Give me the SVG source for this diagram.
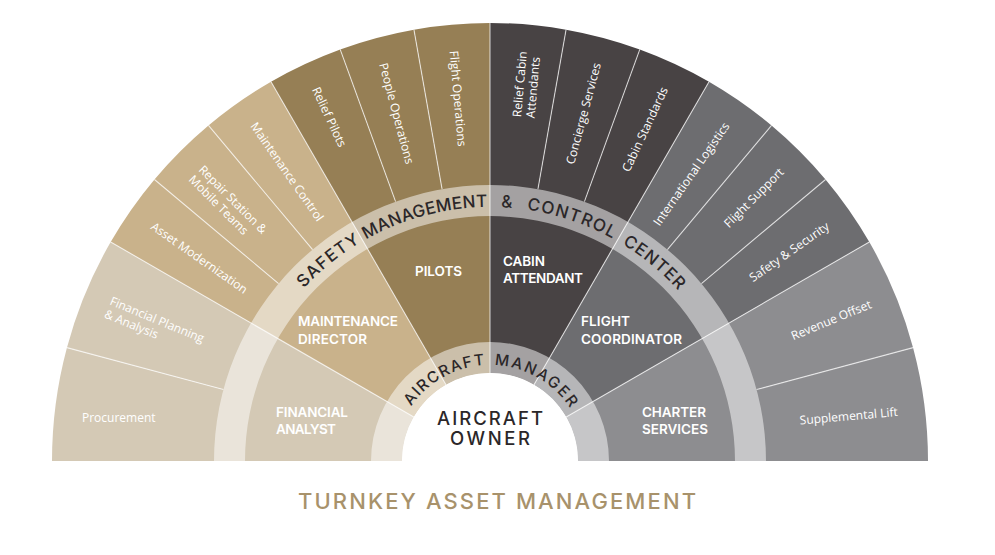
<svg xmlns="http://www.w3.org/2000/svg" width="995" height="555" viewBox="0 0 995 555">
<style>
.lbl{font-family:"Open Sans","Liberation Sans",sans-serif;font-size:12px;fill:#fff}
.mid{font-family:Inter,"Liberation Sans",sans-serif;font-weight:600;font-size:13.5px;fill:#fff}
.ring{font-family:Inter,"Liberation Sans",sans-serif;font-weight:500;fill:#2b2729}
.div{stroke:#fff;stroke-opacity:.7;stroke-width:1.1;fill:none}
.band{fill:#fff;fill-opacity:.5}
.fin{fill:#d4c9b5}.mnt{fill:#c9b28b}.plt{fill:#967f55}.cab{fill:#484344}.flc{fill:#6d6d70}.chr{fill:#8d8d90}
</style>
<defs>
<path id="arcOuter" d="M236,461 A254,254 0 0 1 744,461"/>
<path id="arcInner" d="M394,461 A96,96 0 0 1 586,461"/>
</defs>
<rect width="995" height="555" fill="#fff"/>

<g id="financial-analyst">
<path class="fin" d="M213,461 A277,277 0 0 1 250.11,322.5 L413.79,417 A88,88 0 0 0 402,461 Z"/>
<text class="mid" x="276" y="417" textLength="72" lengthAdjust="spacing">FINANCIAL</text>
<text class="mid" x="276" y="434" textLength="60" lengthAdjust="spacing">ANALYST</text>
</g>
<g id="maintenance-director">
<path class="mnt" d="M250.11,322.5 A277,277 0 0 1 351.5,221.11 L446,384.79 A88,88 0 0 0 413.79,417 Z"/>
<text class="mid" x="298" y="326" textLength="100" lengthAdjust="spacing">MAINTENANCE</text>
<text class="mid" x="298" y="344" textLength="69" lengthAdjust="spacing">DIRECTOR</text>
</g>
<g id="pilots">
<path class="plt" d="M351.5,221.11 A277,277 0 0 1 490,184 L490,373 A88,88 0 0 0 446,384.79 Z"/>
<text class="mid" x="415" y="276" textLength="47" lengthAdjust="spacing">PILOTS</text>
</g>
<g id="cabin-attendant">
<path class="cab" d="M490,184 A277,277 0 0 1 628.5,221.11 L534,384.79 A88,88 0 0 0 490,373 Z"/>
<text class="mid" x="503" y="266" textLength="42" lengthAdjust="spacing">CABIN</text>
<text class="mid" x="503" y="283" textLength="80" lengthAdjust="spacing">ATTENDANT</text>
</g>
<g id="flight-coordinator">
<path class="flc" d="M628.5,221.11 A277,277 0 0 1 729.89,322.5 L566.21,417 A88,88 0 0 0 534,384.79 Z"/>
<text class="mid" x="581" y="326" textLength="49" lengthAdjust="spacing">FLIGHT</text>
<text class="mid" x="581" y="344" textLength="101" lengthAdjust="spacing">COORDINATOR</text>
</g>
<g id="charter-services">
<path class="chr" d="M729.89,322.5 A277,277 0 0 1 767,461 L578,461 A88,88 0 0 0 566.21,417 Z"/>
<text class="mid" x="642" y="417" textLength="64" lengthAdjust="spacing">CHARTER</text>
<text class="mid" x="642" y="434" textLength="66" lengthAdjust="spacing">SERVICES</text>
</g>

<g id="procurement">
<path class="fin" d="M52,461 A438,438 0 0 1 66.92,347.64 L223.4,389.57 A276,276 0 0 0 214,461 Z"/>
<text class="lbl" x="82" y="422">Procurement</text>
</g>
<g id="financial-planning">
<path class="fin" d="M66.92,347.64 A438,438 0 0 1 110.68,242 L250.98,323 A276,276 0 0 0 223.4,389.57 Z"/>
<text class="lbl" transform="translate(109.36,303.34) rotate(22.5)"><tspan x="0" y="1">Financial Planning</tspan><tspan x="0" y="15">&amp; Analysis</tspan></text>
</g>
<g id="asset-modernization">
<path class="mnt" d="M110.68,242 A438,438 0 0 1 154.47,179.46 L278.57,283.59 A276,276 0 0 0 250.98,323 Z"/>
<text class="lbl" transform="translate(152.51,224.69) rotate(35)" y="4.5">Asset Modernization</text>
</g>
<g id="repair-station">
<path class="mnt" d="M154.47,179.46 A438,438 0 0 1 208.46,125.47 L312.59,249.57 A276,276 0 0 0 278.57,283.59 Z"/>
<text class="lbl" transform="translate(198.67,169.67) rotate(45)"><tspan x="0" y="1">Repair Station &amp;</tspan><tspan x="0" y="15">Mobile Teams</tspan></text>
</g>
<g id="maintenance-control">
<path class="mnt" d="M208.46,125.47 A438,438 0 0 1 271,81.68 L352,221.98 A276,276 0 0 0 312.59,249.57 Z"/>
<text class="lbl" transform="translate(253.69,123.51) rotate(55)" y="4.5">Maintenance Control</text>
</g>
<g id="relief-pilots">
<path class="plt" d="M271,81.68 A438,438 0 0 1 340.19,49.42 L395.6,201.65 A276,276 0 0 0 352,221.98 Z"/>
<text class="lbl" transform="translate(315.88,87.6) rotate(65)" y="4.5">Relief Pilots</text>
</g>
<g id="people-operations">
<path class="plt" d="M340.19,49.42 A438,438 0 0 1 413.94,29.65 L442.07,189.19 A276,276 0 0 0 395.6,201.65 Z"/>
<text class="lbl" transform="translate(383.37,63.04) rotate(75)" y="4.5">People Operations</text>
</g>
<g id="flight-operations">
<path class="plt" d="M413.94,29.65 A438,438 0 0 1 490,23 L490,185 A276,276 0 0 0 442.07,189.19 Z"/>
<text class="lbl" transform="translate(454.09,50.57) rotate(85)" y="4.5">Flight Operations</text>
</g>
<g id="relief-cabin-attendants">
<path class="cab" d="M490,23 A438,438 0 0 1 566.06,29.65 L537.93,189.19 A276,276 0 0 0 490,185 Z"/>
<text class="lbl" transform="translate(525.91,50.57) rotate(-85)"><tspan x="-67" y="1">Relief Cabin</tspan><tspan x="-67" y="14.5">Attendants</tspan></text>
</g>
<g id="concierge-services">
<path class="cab" d="M566.06,29.65 A438,438 0 0 1 639.81,49.42 L584.4,201.65 A276,276 0 0 0 537.93,189.19 Z"/>
<text class="lbl" transform="translate(596.63,63.04) rotate(-75)" y="4.5" text-anchor="end">Concierge Services</text>
</g>
<g id="cabin-standards">
<path class="cab" d="M639.81,49.42 A438,438 0 0 1 709,81.68 L628,221.98 A276,276 0 0 0 584.4,201.65 Z"/>
<text class="lbl" transform="translate(664.12,87.6) rotate(-65)" y="4.5" text-anchor="end">Cabin Standards</text>
</g>
<g id="international-logistics">
<path class="flc" d="M709,81.68 A438,438 0 0 1 771.54,125.47 L667.41,249.57 A276,276 0 0 0 628,221.98 Z"/>
<text class="lbl" transform="translate(726.31,123.51) rotate(-55)" y="4.5" text-anchor="end">International Logistics</text>
</g>
<g id="flight-support">
<path class="flc" d="M771.54,125.47 A438,438 0 0 1 825.53,179.46 L701.43,283.59 A276,276 0 0 0 667.41,249.57 Z"/>
<text class="lbl" transform="translate(781.33,169.67) rotate(-45)" y="4.5" text-anchor="end">Flight Support</text>
</g>
<g id="safety-security">
<path class="flc" d="M825.53,179.46 A438,438 0 0 1 869.32,242 L729.02,323 A276,276 0 0 0 701.43,283.59 Z"/>
<text class="lbl" transform="translate(827.49,224.69) rotate(-35)" y="4.5" text-anchor="end">Safety &amp; Security</text>
</g>
<g id="revenue-offset">
<path class="chr" d="M869.32,242 A438,438 0 0 1 913.08,347.64 L756.6,389.57 A276,276 0 0 0 729.02,323 Z"/>
<text class="lbl" transform="translate(870.64,303.34) rotate(-22.5)" y="4.5" text-anchor="end">Revenue Offset</text>
</g>
<g id="supplemental-lift">
<path class="chr" d="M913.08,347.64 A438,438 0 0 1 928,461 L766,461 A276,276 0 0 0 756.6,389.57 Z"/>
<text class="lbl" transform="translate(898,416) rotate(-5)" text-anchor="end">Supplemental Lift</text>
</g>

<g id="dividers">
<line class="div" x1="413.79" y1="417" x2="110.68" y2="242"/>
<line class="div" x1="446" y1="384.79" x2="271" y2="81.68"/>
<line class="div" x1="490" y1="373" x2="490" y2="23" stroke-opacity=".35"/>
<line class="div" x1="534" y1="384.79" x2="709" y2="81.68"/>
<line class="div" x1="566.21" y1="417" x2="869.32" y2="242"/>
<line class="div" x1="223.4" y1="389.57" x2="66.92" y2="347.64"/>
<line class="div" x1="278.57" y1="283.59" x2="154.47" y2="179.46"/>
<line class="div" x1="312.59" y1="249.57" x2="208.46" y2="125.47"/>
<line class="div" x1="395.6" y1="201.65" x2="340.19" y2="49.42"/>
<line class="div" x1="442.07" y1="189.19" x2="413.94" y2="29.65"/>
<line class="div" x1="537.93" y1="189.19" x2="566.06" y2="29.65"/>
<line class="div" x1="584.4" y1="201.65" x2="639.81" y2="49.42"/>
<line class="div" x1="667.41" y1="249.57" x2="771.54" y2="125.47"/>
<line class="div" x1="701.43" y1="283.59" x2="825.53" y2="179.46"/>
<line class="div" x1="756.6" y1="389.57" x2="913.08" y2="347.64"/>
</g>

<g id="safety-management-control-center">
<path class="band" d="M214,461 A276,276 0 0 1 766,461 L735,461 A245,245 0 0 0 245,461 Z"/>
<text class="ring" font-size="17"><textPath href="#arcOuter" startOffset="226.3" text-anchor="middle" textLength="73" lengthAdjust="spacing">SAFETY</textPath></text>
<text class="ring" font-size="17"><textPath href="#arcOuter" startOffset="332.5" text-anchor="middle" textLength="127" lengthAdjust="spacing">MANAGEMENT</textPath></text>
<text class="ring" font-size="17"><textPath href="#arcOuter" startOffset="415.4" text-anchor="middle">&amp;</textPath></text>
<text class="ring" font-size="17"><textPath href="#arcOuter" startOffset="481.2" text-anchor="middle" textLength="91" lengthAdjust="spacing">CONTROL</textPath></text>
<text class="ring" font-size="17"><textPath href="#arcOuter" startOffset="574.3" text-anchor="middle" textLength="73" lengthAdjust="spacing">CENTER</textPath></text>
</g>
<g id="aircraft-manager">
<path class="band" d="M371,461 A119,119 0 0 1 609,461 L578,461 A88,88 0 0 0 402,461 Z"/>
<text class="ring" font-size="15.5"><textPath href="#arcInner" startOffset="101.5" text-anchor="middle" textLength="87" lengthAdjust="spacing">AIRCRAFT</textPath></text>
<text class="ring" font-size="15.5"><textPath href="#arcInner" startOffset="200.1" text-anchor="middle" textLength="90" lengthAdjust="spacing">MANAGER</textPath></text>
</g>
<g id="aircraft-owner">
<path fill="#fff" d="M402,461 A88,88 0 0 1 578,461 Z"/>
<text class="ring" font-size="18.5" fill="#231f20" x="490" y="425" text-anchor="middle" textLength="106" lengthAdjust="spacing">AIRCRAFT</text>
<text class="ring" font-size="18.5" fill="#231f20" x="490" y="445" text-anchor="middle" textLength="80" lengthAdjust="spacing">OWNER</text>
</g>

<g id="title">
<text x="298" y="509" font-family="Inter, 'Liberation Sans', sans-serif" font-weight="500" font-size="22" fill="#a8926b" textLength="398" lengthAdjust="spacing">TURNKEY ASSET MANAGEMENT</text>
</g>
</svg>
